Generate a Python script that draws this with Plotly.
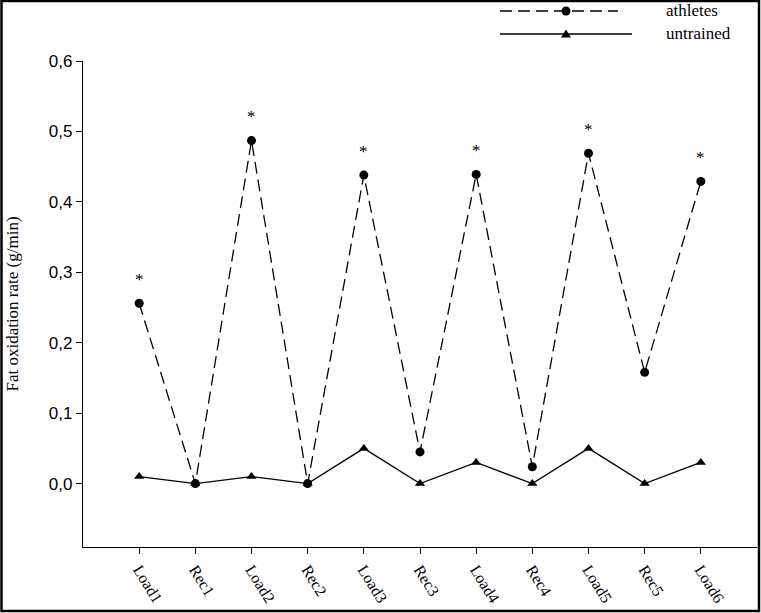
import plotly.graph_objects as go

categories = ["Load1", "Rec1", "Load2", "Rec2", "Load3", "Rec3", "Load4", "Rec4", "Load5", "Rec5", "Load6"]
athletes = [0.256, 0.0, 0.487, 0.0, 0.438, 0.045, 0.439, 0.024, 0.469, 0.158, 0.429]
untrained = [0.01, 0.0, 0.01, 0.0, 0.05, 0.0, 0.03, 0.0, 0.05, 0.0, 0.03]
significant = ["Load1", "Load2", "Load3", "Load4", "Load5", "Load6"]
y_ticks = [0.0, 0.1, 0.2, 0.3, 0.4, 0.5, 0.6]

W, H = 761, 613
L, R, T, B = 83, 4, 61, 66
PW, PH = W - L - R, H - T - B

def px(x):
    return (x - L) / PW

def py(y):
    return (H - B - y) / PH

fig = go.Figure()
fig.add_trace(go.Scatter(
    x=categories, y=athletes, mode="lines+markers", name="athletes",
    line=dict(color="black", width=1.3, dash="12px,6px"),
    marker=dict(symbol="circle", size=9, color="black"),
    showlegend=False,
))
fig.add_trace(go.Scatter(
    x=categories, y=untrained, mode="lines+markers", name="untrained",
    line=dict(color="black", width=1.3),
    marker=dict(symbol="triangle-up", size=9, color="black"),
    showlegend=False,
))

annotations = []
for c, v in zip(categories, athletes):
    if c in significant:
        annotations.append(dict(x=c, y=v, text="*", showarrow=False, yshift=24,
                                font=dict(family="Liberation Serif", size=17, color="black")))

# legend (manual, long sample lines)
shapes = []
for yy, dash, name in [(11, "12px,6px", "athletes"), (34, "solid", "untrained")]:
    x_end = 618 if dash != "solid" else 632
    shapes.append(dict(type="line", xref="paper", yref="paper", x0=px(500), x1=px(x_end),
                       y0=py(yy), y1=py(yy), line=dict(color="black", width=1.3, dash=dash)))
    annotations.append(dict(xref="paper", yref="paper", x=px(664), y=py(yy), text=name,
                            xanchor="left", yanchor="middle", showarrow=False,
                            font=dict(family="Liberation Serif", size=17, color="black")))
shapes.append(dict(type="circle", xref="paper", yref="paper", xsizemode="pixel", ysizemode="pixel",
                   xanchor=px(566), yanchor=py(11), x0=-4.5, x1=4.5, y0=-4.5, y1=4.5,
                   fillcolor="black", line=dict(color="black", width=0)))
shapes.append(dict(type="path", xref="paper", yref="paper", xsizemode="pixel", ysizemode="pixel",
                   xanchor=px(566), yanchor=py(34), path="M -5 -3.5 L 5 -3.5 L 0 4.5 Z",
                   fillcolor="black", line=dict(color="black", width=0)))
# outer frame
shapes.append(dict(type="rect", xref="paper", yref="paper", x0=px(1.5), x1=px(759),
                   y0=py(611), y1=py(1), line=dict(color="black", width=2.5)))

fig.update_layout(
    width=W, height=H,
    margin=dict(l=L, r=R, t=T, b=B, autoexpand=False),
    plot_bgcolor="white", paper_bgcolor="white",
    separators=", ",
    annotations=annotations,
    shapes=shapes,
    xaxis=dict(
        type="category", categoryorder="array", categoryarray=categories,
        range=[-1, 11], showline=True, linecolor="black", linewidth=1.2,
        ticks="outside", ticklen=6, tickcolor="black", tickwidth=1.2,
        tickangle=58, showgrid=False, zeroline=False, automargin=False,
        tickfont=dict(family="Liberation Serif", size=16, color="black"),
    ),
    yaxis=dict(
        range=[-0.09, 0.6], tickvals=y_ticks, tickformat=".1f",
        showline=True, linecolor="black", linewidth=1.2,
        ticks="outside", ticklen=6, tickcolor="black", tickwidth=1.2,
        showgrid=False, zeroline=False, automargin=False,
        tickfont=dict(family="Liberation Sans", size=17, color="black"),
        title=dict(text="Fat oxidation rate (g/min)", standoff=25,
                   font=dict(family="Liberation Serif", size=17, color="black")),
    ),
)

fig.write_html(
    "out.html",
    config={"displayModeBar": False},
    post_script="document.body.style.margin='0';document.body.style.padding='0';document.body.style.overflow='hidden';",
)
